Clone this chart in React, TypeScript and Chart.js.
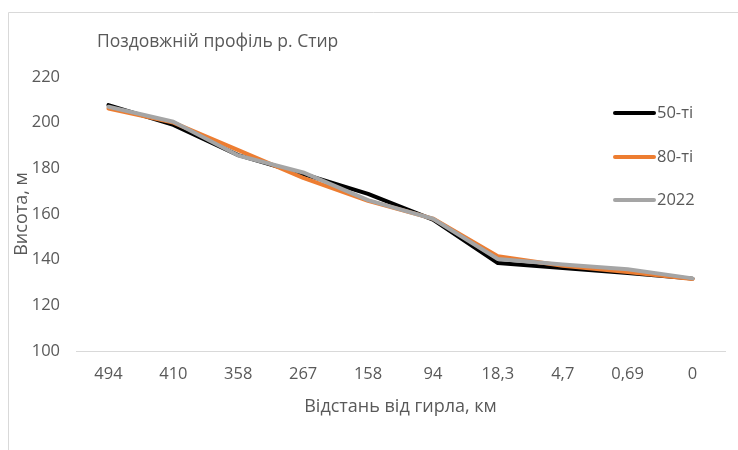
import React, { useEffect, useRef } from 'react';
import { Chart, registerables } from 'chart.js';

Chart.register(...registerables);

const categories = ['494', '410', '358', '267', '158', '94', '18,3', '4,7', '0,69', '0'];
const series50 = [207.7, 199, 185.8, 177.5, 168.8, 157.5, 138.5, 136.4, 134.2, 131.7];
const series80 = [206.2, 200, 188, 175.8, 165.8, 158, 141.5, 137.3, 134.6, 131.5];
const series2022 = [207, 200.4, 185.6, 178.2, 166.1, 157.9, 140.3, 137.9, 135.8, 131.8];
const seriesNames = ['50-ті', '80-ті', '2022'];
const seriesColors = ['#000000', '#ED7D31', '#A5A5A5'];
const yTicks = { min: 100, max: 220, step: 20 };
const chartTitle = 'Поздовжній профіль р. Стир';
const xTitle = 'Відстань від гирла, км';
const yTitle = 'Висота, м';

const FONT = "'Open Sans', sans-serif";
const TEXT = '#595959';

const overlayPlugin = {
  id: 'overlay',
  afterDraw(chart: any) {
    const ctx = chart.ctx as CanvasRenderingContext2D;
    ctx.save();
    // frame
    ctx.strokeStyle = '#d9d9d9';
    ctx.lineWidth = 1;
    ctx.beginPath();
    ctx.moveTo(8.5, 450);
    ctx.lineTo(8.5, 12.5);
    ctx.lineTo(738, 12.5);
    ctx.stroke();
    // title
    ctx.fillStyle = TEXT;
    ctx.font = `17.5px ${FONT}`;
    ctx.textAlign = 'left';
    ctx.textBaseline = 'middle';
    ctx.fillText(chartTitle, 97, 42);
    // legend
    const ys = [113, 157, 200];
    chart.data.datasets.forEach((ds: any, i: number) => {
      ctx.strokeStyle = ds.borderColor;
      ctx.lineWidth = 4;
      ctx.lineCap = 'round';
      ctx.beginPath();
      ctx.moveTo(615, ys[i]);
      ctx.lineTo(654, ys[i]);
      ctx.stroke();
      ctx.fillStyle = TEXT;
      ctx.font = `16.5px ${FONT}`;
      ctx.fillText(ds.label, 657, ys[i]);
    });
    ctx.restore();
  },
};

export default function App() {
  const ref = useRef<HTMLCanvasElement>(null);
  useEffect(() => {
    const values = [series50, series80, series2022];
    const chart = new Chart(ref.current!, {
      type: 'line',
      data: {
        labels: categories,
        datasets: values.map((v, i) => ({
          label: seriesNames[i],
          data: v,
          borderColor: seriesColors[i],
          backgroundColor: seriesColors[i],
          borderWidth: 4,
          borderCapStyle: 'round',
          borderJoinStyle: 'round',
          pointRadius: 0,
          tension: 0,
          order: 3 - i,
        })),
      },
      options: {
        animation: false,
        responsive: false,
        devicePixelRatio: 1,
        layout: { padding: { left: 0, top: 77, right: 13, bottom: 0 } },
        plugins: {
          legend: { display: false },
          title: { display: false },
          tooltip: { enabled: false },
        },
        scales: {
          x: {
            offset: true,
            grid: { display: true, drawOnChartArea: false, drawTicks: false },
            border: { display: true, color: '#d9d9d9', width: 1 },
            ticks: { color: TEXT, font: { family: FONT, size: 16.5 }, padding: 13, maxRotation: 0, autoSkip: false },
            title: { display: true, text: xTitle, color: TEXT, font: { family: FONT, size: 18 }, padding: { top: 0, bottom: 32 } },
            afterFit: (s: any) => { s.height = 99; },
          },
          y: {
            min: yTicks.min,
            max: yTicks.max,
            grid: { display: false, drawTicks: false },
            border: { display: false },
            ticks: { stepSize: yTicks.step, color: TEXT, font: { family: FONT, size: 16.5 }, padding: 16 },
            title: { display: true, text: yTitle, color: TEXT, font: { family: FONT, size: 18 }, padding: { top: 11, bottom: 0 } },
            afterFit: (s: any) => { s.width = 76; },
          },
        },
      } as any,
      plugins: [overlayPlugin],
    });
    return () => chart.destroy();
  }, []);
  return (
    <div style={{ position: 'absolute', left: 0, top: 0, width: 738, height: 450, background: '#fff' }}>
      <canvas ref={ref} width={738} height={450} style={{ display: 'block', width: 738, height: 450 }} />
    </div>
  );
}
